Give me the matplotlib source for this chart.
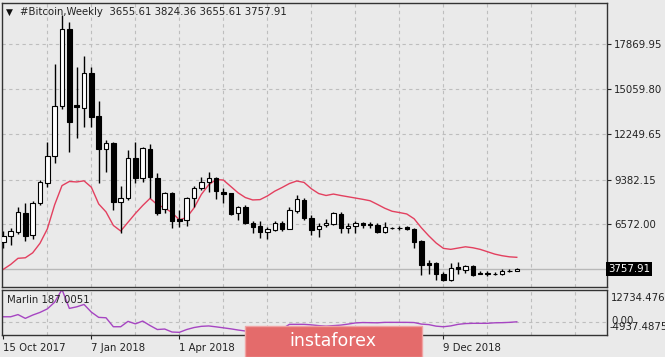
import numpy as np
import matplotlib
matplotlib.use('Agg')
import matplotlib.pyplot as plt
from matplotlib.patches import Rectangle

# weekly candles, 15 Oct 2017 .. 17 Feb 2019
opens = [5442, 5856, 6107, 7300, 5880, 7927, 9183, 10877, 14016, 18812,
         14050, 13890, 16087, 13370, 11279, 11693, 7990, 8204, 10714, 9459,
         11279, 9459, 7513, 8517, 6880, 6841, 8204, 8831, 9245, 9459,
         8620, 8517, 7262, 7680, 6635, 6465, 6107, 6213, 6672, 6276,
         7406, 8097, 6985, 6257, 6528, 6590, 7218, 6320, 6465, 6635,
         6560, 6528, 6107, 6360, 6340, 6421, 6257, 5523, 4120, 4123,
         3450, 3075, 3870, 3700, 3955, 3490, 3520, 3470, 3450, 3620,
         3655.61]
highs = [6170, 6320, 7638, 7927, 8053, 9352, 11756, 16615, 19709, 19289,
         16426, 17136, 16426, 14330, 11863, 11756, 8975, 11235, 11756, 11405,
         11612, 9810, 8620, 8620, 7469, 8304, 8975, 9559, 9873, 9559,
         8831, 8560, 7720, 7783, 6778, 6778, 6421, 6778, 6778, 7676,
         8410, 8204, 7155, 6635, 6885, 7325, 7363, 6635, 6795, 6737,
         6697, 6672, 6737, 6400, 6450, 6484, 6320, 5586, 4330, 4227,
         3600, 4123, 4227, 4017, 4017, 3660, 3640, 3550, 3750, 3750,
         3824.36]
lows = [5084, 5272, 5962, 5523, 5630, 7783, 8932, 10438, 13800, 11128,
        11970, 12698, 12698, 9145, 9873, 7469, 6007, 8097, 9145, 9245,
        8204, 7155, 7262, 6320, 6421, 6465, 7638, 8723, 8620, 8140,
        7889, 7155, 6841, 6590, 6044, 5692, 5648, 6170, 6150, 6257,
        7262, 6841, 5900, 5793, 6384, 6528, 6007, 6044, 6007, 6320,
        6320, 6007, 6044, 6250, 6200, 6213, 5065, 3389, 3452, 3075,
        3030, 3030, 3450, 3500, 3350, 3430, 3350, 3380, 3390, 3570,
        3655.61]
closes = [5856, 6151, 7325, 5837, 7927, 9208, 10877, 14016, 18812, 12974,
          13953, 16087, 13325, 11279, 11693, 7990, 8204, 10714, 9459, 11342,
          9522, 7262, 8517, 6778, 6800, 8204, 8831, 9245, 9459, 8680,
          8473, 7199, 7638, 6635, 6421, 6107, 6257, 6672, 6276, 7469,
          8140, 6948, 6213, 6484, 6672, 7262, 6320, 6465, 6635, 6509,
          6500, 6107, 6421, 6330, 6320, 6257, 5480, 4017, 4040, 3433,
          3075, 3847, 3750, 3955, 3390, 3450, 3480, 3440, 3660, 3660,
          3757.91]

# red moving average line
ma = [3745, 4050, 4437, 4470, 4780, 5380, 6280, 7800, 9000, 9260,
      9230, 9300, 8900, 7850, 7350, 6500, 6150, 6700, 7250, 7750,
      8200, 7800, 7600, 7300, 6850, 7000, 7600, 8450, 9050, 9380,
      9350, 8950, 8550, 8250, 8100, 8120, 8350, 8650, 8880, 9130,
      9290, 9200, 8800, 8500, 8380, 8470, 8380, 8300, 8220, 8140,
      8050, 7820, 7580, 7390, 7310, 7220, 6920, 6350, 5850, 5400,
      5060, 5000, 5080, 5160, 5100, 5000, 4850, 4700, 4600, 4530,
      4500]

# Marlin oscillator
marlin = [2140, 2140, 2990, 1520, 2800, 3840, 5200, 7820, 12734.476, 5390,
          6000, 6930, 3960, 1910, 1750, -1730, -1730, 360, -610, 475,
          -1260, -2810, -2620, -3780, -3900, -2810, -2040, -1570, -1420, -1770,
          -2150, -2540, -3000, -3390, -4200, -4937.4875, -4300, -3400, -2600, -800,
          -800, -800, -1000, -1300, -1500, -1300, -1100, -700, -250, -100,
          -150, -200, -30, -30, -30, -30, -100, -700, -900, -1500,
          -1730, -1400, -800, -500, -400, -400, -400, -200, -150, -30,
          187.0051]

price_ticks = [17869.95, 15059.80, 12249.65, 9382.15, 6572.00]
# labels at 36 and 48 sit under the watermark, so only their ticks are kept
date_pos = [0, 12, 24, 36, 48, 60]
date_labels = ['15 Oct 2017', '7 Jan 2018', '1 Apr 2018', '', '', '9 Dec 2018']
last_price = 3757.91

W, H = 665, 357
bg = '#EAEAEA'
fs = 7.3
plt.rcParams['font.family'] = 'DejaVu Sans'

fig = plt.figure(figsize=(W / 100, H / 100), dpi=100)
fig.patch.set_facecolor(bg)

def px_rect(x0, y0, x1, y1):
    return [x0 / W, 1 - y1 / H, (x1 - x0) / W, (y1 - y0) / H]

ax = fig.add_axes(px_rect(2, 3, 607, 287))
axm = fig.add_axes(px_rect(2, 289.5, 607, 335))

idx = np.arange(len(opens))
xlim = (-0.18, 82.3)

for a in (ax, axm):
    a.set_facecolor(bg)
    a.set_xlim(*xlim)
    for s in a.spines.values():
        s.set_color('#333333')
        s.set_linewidth(1)
    for gx in range(6, 83, 6):
        a.axvline(gx, color='#BEBEBE', ls=(0, (3, 3)), lw=0.8, zorder=0)

# main panel
ax.set_ylim(2636, 20462)
for p in price_ticks:
    ax.axhline(p, color='#BEBEBE', ls=(0, (3, 3)), lw=0.8, zorder=0)
ax.axhline(last_price, color='#B8B8B8', lw=1, zorder=1)
ax.set_xticks([])
ax.yaxis.tick_right()
ax.set_yticks(price_ticks)
ax.set_yticklabels(['%.2f' % p for p in price_ticks])
ax.tick_params(axis='y', length=3, pad=2, labelsize=fs, colors='#222222')

o = np.array(opens); c = np.array(closes)
ax.vlines(idx, lows, highs, color='black', lw=1, zorder=3)
up = c >= o
ax.bar(idx, np.abs(c - o), bottom=np.minimum(o, c), width=0.6,
       color=np.where(up, 'white', 'black'), edgecolor='black', lw=0.8, zorder=4)
ax.plot(idx, ma, color='#E3405F', lw=1, zorder=2)

ax.text(1.002, last_price, '%.2f' % last_price, transform=ax.get_yaxis_transform(),
        ha='left', va='center', color='white', fontsize=fs,
        bbox=dict(facecolor='black', edgecolor='none', pad=1.6))

fig.text(6 / W, 1 - 12 / H, '\u25bc', fontsize=6.5, va='center', ha='left', color='#111111')
fig.text(20 / W, 1 - 12 / H, '#Bitcoin,Weekly  %.2f %.2f %.2f %.2f' % (opens[-1], highs[-1], lows[-1], closes[-1]),
         fontsize=fs, va='center', ha='left', color='#222222')

# indicator panel
axm.set_ylim(-4937.4875, 12734.476)
axm.axhline(0, color='#BEBEBE', ls=(0, (3, 3)), lw=0.8, zorder=0)
axm.plot(idx, marlin, color='#A645C2', lw=1, zorder=2)
axm.set_yticks([])
axm.set_xticks(date_pos)
axm.set_xticklabels(date_labels, ha='left')
axm.tick_params(axis='x', length=3, pad=3, labelsize=fs, colors='#222222')
fig.text(7 / W, 1 - 300 / H, 'Marlin %.4f' % marlin[-1], fontsize=fs, va='center', ha='left', color='#222222')
fig.text(611 / W, 1 - 298 / H, '12734.476', fontsize=fs, va='center', ha='left', color='#222222')
fig.text(611 / W, 1 - 321.5 / H, '0.00', fontsize=fs, va='center', ha='left', color='#222222')
fig.text(609 / W, 1 - 327 / H, '-4937.4875', fontsize=fs, va='center', ha='left', color='#222222')

# instaforex watermark
fig.patches.append(Rectangle((245 / W, 0), 177 / W, 31.5 / H, transform=fig.transFigure,
                             facecolor='#E46B6B', edgecolor='#F0A3A3', lw=1, zorder=10))
fig.text(333 / W, 1 - 341 / H, 'instaforex', color='white', fontsize=12.5,
         ha='center', va='center', zorder=11)

fig.savefig('out.png', dpi=100, facecolor=bg)
